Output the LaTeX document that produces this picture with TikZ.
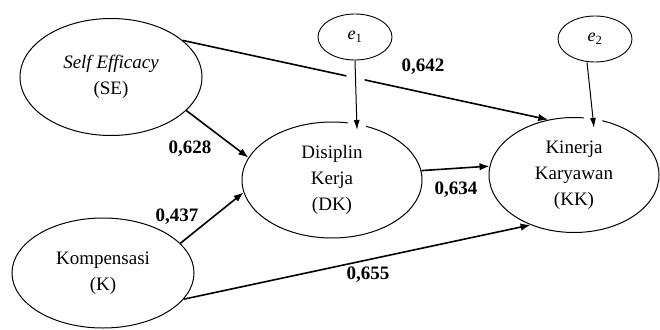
\documentclass[tikz,border=0pt]{standalone}
\usepackage{fontspec}
\setmainfont{Liberation Serif}
\usetikzlibrary{arrows.meta,shapes.geometric}
\begin{document}
\begin{tikzpicture}[x=1pt,y=-1pt,
  latent/.style={ellipse,draw,line width=1pt,inner sep=0pt,align=center,
    font=\fontsize{19}{26}\selectfont},
  errnode/.style={ellipse,draw,line width=0.9pt,minimum width=74pt,
    minimum height=46pt,inner sep=0pt,font=\fontsize{18}{20}\selectfont},
  pathline/.style={line width=1.6pt,-{Latex[length=10pt,width=7.5pt]}},
  errline/.style={line width=1pt,-{Latex[length=10pt,width=6pt]},
    preaction={draw=white,line width=18pt,-,shorten <=8pt}},
  coef/.style={font=\fontsize{19}{22}\selectfont\bfseries,inner sep=1pt}
]
\useasboundingbox (0,0) rectangle (660,329);
\clip (0,0) rectangle (660,329);

% constructs
\node[latent,minimum width=182pt,minimum height=117pt] (SE) at (111,77)
  {\textit{Self Efficacy}\\(SE)};
\node[latent,minimum width=182pt,minimum height=110pt] (K) at (103,273)
  {Kompensasi\\(K)};
\node[latent,minimum width=180pt,minimum height=116pt] (DK) at (332,180)
  {Disiplin\\Kerja\\(DK)};
\node[latent,minimum width=170pt,minimum height=115pt] (KK) at (574,175)
  {Kinerja\\Karyawan\\(KK)};

% error terms
\node[errnode] (e1) at (355,37) {\textit{e}\textsubscript{1}};
\node[errnode] (e2) at (595,39) {\textit{e}\textsubscript{2}};

% structural paths
\draw[pathline] (SE.27.5) -- (KK.115);
\draw[pathline] (SE.-24.6) -- (DK.165);
\draw[pathline] (K.21) -- (DK.188);
\draw[pathline] (K.-18) -- (KK.229);
\draw[pathline] (DK.6) -- (KK.174);

% error paths
\draw[errline] (e1.south) -- ([shift={(25,-50)}]DK.center);
\draw[errline] ([xshift=-8pt]e2.south) -- ([shift={(20,-47)}]KK.center);

% path coefficients
\node[coef] (c1) at (423,67) {0,642};
\node[coef] (c2) at (190,149) {0,628};
\node[coef] (c3) at (177,217) {0,437};
\node[coef] (c4) at (456,190) {0,634};
\node[coef] (c5) at (368,275) {0,655};
\end{tikzpicture}
\end{document}
